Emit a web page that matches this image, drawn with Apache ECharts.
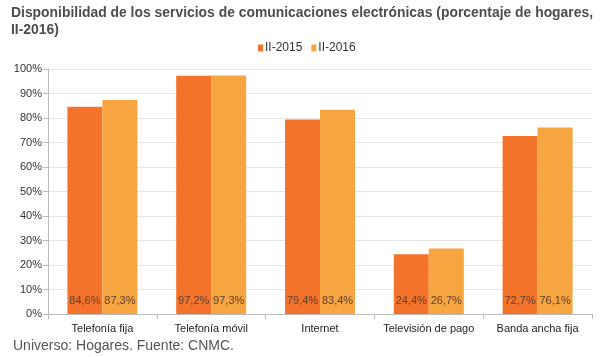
<!DOCTYPE html>
<html><head><meta charset="utf-8">
<script src="https://cdn.jsdelivr.net/npm/echarts@6/dist/echarts.min.js"></script>
<style>html,body{margin:0;padding:0;background:#fff}#c{width:602px;height:357px}</style>
</head><body><div id="c"></div>
<script>
const categories = ['Telefonía fija', 'Telefonía móvil', 'Internet', 'Televisión de pago', 'Banda ancha fija'];
const s2015 = [84.6, 97.2, 79.4, 24.4, 72.7];
const s2016 = [87.3, 97.3, 83.4, 26.7, 76.1];
const seriesNames = ['II-2015', 'II-2016'];
const fmt = v => v.toFixed(1).replace('.', ',') + '%';
const chart = echarts.init(document.getElementById('c'));
const lbl = {
  show: true, position: 'insideBottom', distance: 8,
  fontFamily: 'Liberation Sans, Arial', fontSize: 11, color: '#5b4030',
  formatter: p => fmt(p.value)
};
chart.setOption({
  animation: false,
  textStyle: { fontFamily: 'Liberation Sans, Arial' },
  title: [{
    text: 'Disponibilidad de los servicios de comunicaciones electrónicas (porcentaje de hogares,\nII-2016)',
    left: 6, top: 0,
    textStyle: { fontSize: 13.9, fontWeight: 'bold', color: '#4d4d4d', lineHeight: 17, fontFamily: 'Liberation Sans, Arial' }
  }, {
    text: 'Universo: Hogares. Fuente: CNMC.',
    left: 8, top: 334,
    textStyle: { fontSize: 14, fontWeight: 'normal', color: '#555', fontFamily: 'Liberation Sans, Arial' }
  }],
  legend: {
    data: seriesNames, top: 37, left: 253,
    itemWidth: 5, itemHeight: 7, itemGap: 9, icon: 'rect',
    textStyle: { fontSize: 12, color: '#333', padding: [0, 0, 0, -3] }
  },
  grid: { left: 48, right: 10, top: 69, bottom: 43 },
  xAxis: {
    type: 'category', data: categories,
    axisLine: { lineStyle: { color: '#bbb' } },
    axisTick: { show: true, alignWithLabel: false, length: 5, lineStyle: { color: '#bbb' } },
    axisLabel: { fontSize: 11, color: '#222', margin: 9, interval: 0 }
  },
  yAxis: {
    type: 'value', min: 0, max: 100, interval: 10,
    axisLine: { show: true, lineStyle: { color: '#bbb' } },
    axisTick: { show: true, length: 5, lineStyle: { color: '#bbb' } },
    axisLabel: { fontSize: 11, color: '#333', formatter: '{value}%', margin: 6 },
    splitLine: { lineStyle: { color: '#e6e6e6' } }
  },
  series: [
    { name: seriesNames[0], type: 'bar', data: s2015, barWidth: 35, barGap: '0%',
      itemStyle: { color: '#F4732A' }, label: lbl },
    { name: seriesNames[1], type: 'bar', data: s2016, barWidth: 35, barGap: '0%',
      itemStyle: { color: '#F7A540' }, label: lbl }
  ]
});
</script></body></html>
